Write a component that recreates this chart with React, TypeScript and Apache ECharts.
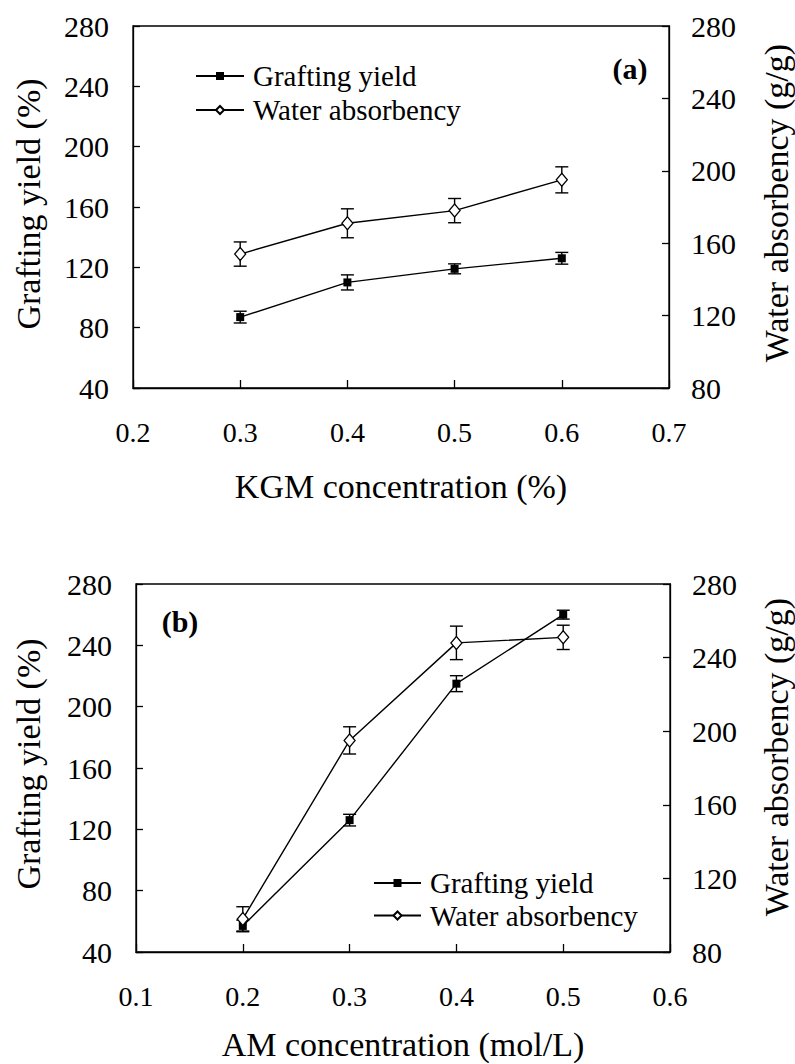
import React, { useEffect, useRef } from "react";
import * as echarts from "echarts";

// ---- data: panel (a) ----
const kgmConc = [0.3, 0.4, 0.5, 0.6];
const graftA = [87, 110, 119, 126];
const graftAErr = [3.9, 5.0, 3.3, 3.9];
const waterA = [154, 171, 178, 195];
const waterAErr = [6.7, 8.0, 6.7, 7.2];

// ---- data: panel (b) ----
const amConc = [0.2, 0.3, 0.4, 0.5];
const graftB = [57, 126, 215, 260];
const graftBErr = [3.8, 3.8, 5.2, 2.9];
const waterB = [98, 195, 248, 251];
const waterBErr = [6.6, 7.4, 9.1, 6.6];

const xTicksA = [0.2, 0.7];
const xTicksB = [0.1, 0.6];
const yLeftRange = [40, 280];
const yRightRange = [80, 280];

const FONT = "Times New Roman, Liberation Serif, DejaVu Serif, serif";
const NAME_GY = "Grafting yield";
const NAME_WA = "Water absorbency";

function errData(xs: number[], ys: number[], es: number[]) {
  return xs.map((x, i) => [x, ys[i] - es[i], ys[i] + es[i]]);
}

function errRender(params: any, api: any) {
  const x = api.value(0);
  const lo = api.coord([x, api.value(1)]);
  const hi = api.coord([x, api.value(2)]);
  const w = 6.5;
  const style = { stroke: "#000", lineWidth: 1.4, fill: "none" };
  return {
    type: "group",
    children: [
      { type: "line", shape: { x1: lo[0], y1: lo[1], x2: hi[0], y2: hi[1] }, style },
      { type: "line", shape: { x1: lo[0] - w, y1: lo[1], x2: lo[0] + w, y2: lo[1] }, style },
      { type: "line", shape: { x1: hi[0] - w, y1: hi[1], x2: hi[0] + w, y2: hi[1] }, style },
    ],
  };
}

export default function App() {
  const ref = useRef<HTMLDivElement>(null);
  useEffect(() => {
    if (!ref.current) return;
    const chart = echarts.init(ref.current, undefined, { renderer: "svg" });

    const axisLine = { show: true, lineStyle: { color: "#000", width: 1.3 } };
    const mkX = (gi: number, range: number[]) => ({
      type: "value",
      gridIndex: gi,
      min: range[0],
      max: range[1],
      interval: 0.1,
      axisLine,
      axisTick: { show: true, inside: true, length: 8, lineStyle: { color: "#000", width: 1.3 } },
      splitLine: { show: false },
      axisLabel: {
        color: "#000",
        fontFamily: FONT,
        fontSize: 28,
        margin: 30,
        formatter: (v: number) => v.toFixed(1),
      },
    });
    const mkY = (gi: number, range: number[], pos: "left" | "right") => ({
      type: "value",
      gridIndex: gi,
      position: pos,
      min: range[0],
      max: range[1],
      interval: 40,
      axisLine,
      axisTick: { show: true, inside: true, length: 7, lineStyle: { color: "#000", width: 1.3 } },
      splitLine: { show: false },
      axisLabel: {
        color: "#000",
        fontFamily: FONT,
        fontSize: 30,
        margin: pos === "left" ? 24 : 22,
      },
    });

    const lineSeries = (name: string, xs: number[], ys: number[], xi: number, yi: number, gy: boolean) => ({
      type: "line",
      name,
      xAxisIndex: xi,
      yAxisIndex: yi,
      data: xs.map((x, i) => [x, ys[i]]),
      symbol: gy ? "rect" : "diamond",
      symbolSize: gy ? 8 : [11, 13],
      showSymbol: true,
      z: 3,
      lineStyle: { color: "#000", width: 1.4 },
      itemStyle: gy
        ? { color: "#000", borderColor: "#000", borderWidth: 0 }
        : { color: "#fff", borderColor: "#000", borderWidth: 1.3 },
    });
    const errSeries = (name: string, xs: number[], ys: number[], es: number[], xi: number, yi: number) => ({
      type: "custom",
      name,
      xAxisIndex: xi,
      yAxisIndex: yi,
      z: 2,
      data: errData(xs, ys, es),
      encode: { x: 0, y: [1, 2] },
      renderItem: errRender,
    });

    const legendCommon = {
      orient: "vertical",
      padding: 0,
      itemHeight: 10,
      data: [NAME_GY, NAME_WA],
      textStyle: { color: "#000", fontFamily: FONT, fontSize: 29, lineHeight: 30, padding: [0, 0, 0, 4] },
      selectedMode: false,
    };

    const title = (text: string, x: number, y: number, rot: number, size = 34, bold = false) => ({
      type: "text",
      x,
      y,
      rotation: rot,
      style: {
        text,
        fill: "#000",
        fontFamily: FONT,
        fontSize: size,
        fontWeight: bold ? "bold" : "normal",
        textAlign: "center",
        textVerticalAlign: "middle",
      },
    });

    chart.setOption({
      animation: false,
      backgroundColor: "#fff",
      textStyle: { fontFamily: FONT },
      grid: [
        { left: 133, top: 26, width: 536, height: 362, show: true, borderColor: "#000", borderWidth: 1.3 },
        { left: 136, top: 584, width: 534, height: 368, show: true, borderColor: "#000", borderWidth: 1.3 },
      ],
      xAxis: [mkX(0, xTicksA), mkX(1, xTicksB)],
      yAxis: [
        mkY(0, yLeftRange, "left"),
        mkY(0, yRightRange, "right"),
        mkY(1, yLeftRange, "left"),
        mkY(1, yRightRange, "right"),
      ],
      legend: [
        { ...legendCommon, left: 195, top: 61, itemWidth: 48, itemGap: 4 },
        { ...legendCommon, left: 373, top: 868, itemWidth: 47, itemGap: 2.5 },
      ],
      series: [
        errSeries("errGA", kgmConc, graftA, graftAErr, 0, 0),
        errSeries("errWA", kgmConc, waterA, waterAErr, 0, 1),
        lineSeries(NAME_GY, kgmConc, graftA, 0, 0, true),
        lineSeries(NAME_WA, kgmConc, waterA, 0, 1, false),
        errSeries("errGB", amConc, graftB, graftBErr, 1, 2),
        errSeries("errWB", amConc, waterB, waterBErr, 1, 3),
        lineSeries(NAME_GY, amConc, graftB, 1, 2, true),
        lineSeries(NAME_WA, amConc, waterB, 1, 3, false),
      ],
      graphic: [
        title("KGM concentration (%)", 401, 486, 0),
        title("AM concentration (mol/L)", 403, 1044, 0),
        title("Grafting yield (%)", 28, 204, Math.PI / 2),
        title("Water absorbency (g/g)", 776, 203, Math.PI / 2),
        title("Grafting yield (%)", 28, 764, Math.PI / 2),
        title("Water absorbency (g/g)", 776, 757, Math.PI / 2),
        title("(a)", 630, 68, 0, 30, true),
        title("(b)", 180, 621, 0, 30, true),
      ],
    });
    return () => chart.dispose();
  }, []);
  return (
    <div
      ref={ref}
      style={{ position: "fixed", left: 0, top: 0, width: 795, height: 1064, background: "#fff" }}
    />
  );
}
